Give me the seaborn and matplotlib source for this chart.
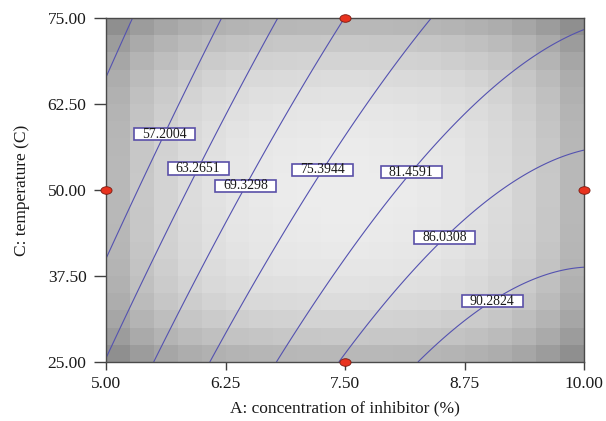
import numpy as np
import matplotlib
matplotlib.use("Agg")
import matplotlib.pyplot as plt
import matplotlib.transforms as mtransforms
from matplotlib.patches import Rectangle
from matplotlib.path import Path
import seaborn as sns

# Factor ranges (A: inhibitor concentration %, C: temperature)
A_range = [5.0, 10.0]
C_range = [25.0, 75.0]

# Quadratic response model in coded units a, c in [-1, 1]:
# y = b0 + bA*a + bC*c + bAC*a*c + bAA*a^2 + bCC*c^2
coef_names = ["b0", "bA", "bC", "bAC", "bAA", "bCC"]
coef_values = [78.1, 17.28, -8.525, 2.235, -7.88, -0.2]

# Contour levels (first one is drawn without a label)
contour_levels = [45.8, 57.2004, 63.2651, 69.3298, 75.3944, 81.4591, 86.0308, 90.2824]
label_text = ["57.2004", "63.2651", "69.3298", "75.3944", "81.4591", "86.0308", "90.2824"]
label_A = [5.58, 5.94, 6.43, 7.23, 8.14, 8.49, 8.99]
label_C = [58.4, 53.3, 50.9, 53.3, 53.2, 43.75, 34.9]

# Design points
design_A = [5.0, 7.5, 10.0, 7.5]
design_C = [50.0, 75.0, 50.0, 25.0]

x_ticks = [5.0, 6.25, 7.5, 8.75, 10.0]
y_ticks = [25.0, 37.5, 50.0, 62.5, 75.0]
x_label = "A: concentration of inhibitor (%)"
y_label = "C: temperature (C)"

sns.set_style("white")
plt.rcParams["font.family"] = ["Liberation Serif", "DejaVu Serif"]

W, H = 606, 421
fig = plt.figure(figsize=(W / 100, H / 100), dpi=100)
ax = fig.add_axes([106 / W, 1 - 362 / H, 478 / W, 344 / H])


def to_coded(A, C):
    a = (np.asarray(A) - np.mean(A_range)) / (np.diff(A_range)[0] / 2)
    c = (np.asarray(C) - np.mean(C_range)) / (np.diff(C_range)[0] / 2)
    return a, c


def response(A, C):
    a, c = to_coded(A, C)
    b0, bA, bC, bAC, bAA, bCC = coef_values
    return b0 + bA * a + bC * c + bAC * a * c + bAA * a ** 2 + bCC * c ** 2


# Shaded background: blocky gray field, light in the middle, darker toward the corners
n_cells = 20
A_edges = np.linspace(*A_range, n_cells + 1)
C_edges = np.linspace(*C_range, n_cells + 1)
Ac = 0.5 * (A_edges[:-1] + A_edges[1:])
Cc = 0.5 * (C_edges[:-1] + C_edges[1:])
Ag, Cg = np.meshgrid(Ac, Cc)
ag, cg = to_coded(Ag, Cg)
shade = (0.925 - 0.09 * (ag ** 2 + cg ** 2) - 0.15 * (ag ** 4 + cg ** 4)
         + 0.05 * ag ** 2 * cg ** 2)
ax.pcolormesh(A_edges, C_edges, shade, cmap="gray", vmin=0, vmax=1,
              shading="flat", zorder=0, antialiased=False)

# Contour lines of the response surface
Af = np.linspace(*A_range, 300)
Cf = np.linspace(*C_range, 300)
AF, CF = np.meshgrid(Af, Cf)
Z = response(AF, CF)
line_color = "#5452b0"
cs = ax.contour(AF, CF, Z, levels=contour_levels, colors=line_color,
                linewidths=0.8, zorder=2)

# Boxed contour labels, placed on the nearest point of each line
box_w, box_h = 0.61, 0.125  # inches
for txt, lx, ly in zip(label_text, label_A, label_C):
    lev = float(txt)
    idx = int(np.argmin(np.abs(np.array(contour_levels) - lev)))
    segs = [s for s in cs.allsegs[idx] if len(s)]
    pts = np.vstack(segs)
    disp = ax.transData.transform(pts)
    target = ax.transData.transform([[lx, ly]])[0]
    px, py = pts[np.argmin(((disp - target) ** 2).sum(axis=1))]
    tr = fig.dpi_scale_trans + mtransforms.ScaledTranslation(px, py, ax.transData)
    ax.add_patch(Rectangle((-box_w / 2, -box_h / 2), box_w, box_h, transform=tr,
                           facecolor="white", edgecolor="#5a50a8", linewidth=1.2,
                           zorder=4, clip_on=False))
    ax.text(px, py, txt, ha="center", va="center", fontsize=9.9, color="#1a1a1a",
            zorder=5)

# Design points as small red ellipses on the border
ellipse = Path.unit_circle().transformed(mtransforms.Affine2D().scale(1.0, 0.68))
sns.scatterplot(x=design_A, y=design_C, marker=ellipse, s=64, color="#e8321e",
                edgecolor="#7a1a10", linewidth=0.6, clip_on=False, zorder=6,
                ax=ax, legend=False)

ax.set_xlim(*A_range)
ax.set_ylim(*C_range)
ax.set_xticks(x_ticks)
ax.set_yticks(y_ticks)
ax.set_xticklabels([f"{v:.2f}" for v in x_ticks])
ax.set_yticklabels([f"{v:.2f}" for v in y_ticks])
ax.tick_params(axis="both", direction="out", color="#404040", width=1.0,
               labelsize=12.5, labelcolor="#1a1a1a")
ax.tick_params(axis="y", length=9, pad=5, left=True)
ax.tick_params(axis="x", length=6, pad=4, bottom=True)
for sp in ax.spines.values():
    sp.set_color("#4a4a4a")
    sp.set_linewidth(1.0)
    sp.set_zorder(3)

ax.set_xlabel(x_label, fontsize=12.5, color="#1a1a1a", labelpad=6)
ax.set_ylabel(y_label, fontsize=12.5, color="#1a1a1a", labelpad=13)

fig.savefig("out.png", dpi=100)
